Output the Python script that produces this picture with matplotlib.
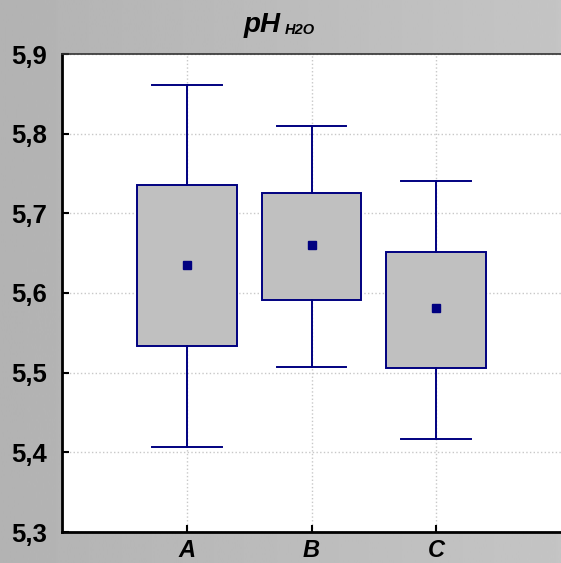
import matplotlib.pyplot as plt
import numpy as np

groups = ["A", "B", "C"]
means = [5.635, 5.660, 5.581]
box_low = [5.533, 5.591, 5.506]
box_high = [5.736, 5.726, 5.651]
whisk_low = [5.407, 5.507, 5.417]
whisk_high = [5.861, 5.810, 5.741]

yticks = [5.3, 5.4, 5.5, 5.6, 5.7, 5.8, 5.9]

navy = "#000080"

fig = plt.figure(figsize=(5.61, 5.63), dpi=100)

# gray gradient background
bg = fig.add_axes([0, 0, 1, 1], zorder=-10)
grad = np.linspace(0.70, 0.77, 256).reshape(1, -1)
bg.imshow(grad, aspect="auto", cmap="gray", vmin=0, vmax=1, extent=[0, 1, 0, 1])
bg.axis("off")

ax = fig.add_axes([62 / 561, 31 / 563, 1 - 62 / 561, 478 / 563])
ax.set_facecolor("white")

stats = []
for i, g in enumerate(groups):
    stats.append({
        "label": g,
        "mean": means[i],
        "med": means[i],
        "q1": box_low[i],
        "q3": box_high[i],
        "whislo": whisk_low[i],
        "whishi": whisk_high[i],
        "fliers": [],
    })

ax.bxp(stats, positions=[1, 2, 3], widths=0.8, patch_artist=True,
       showmeans=True, showfliers=False,
       boxprops=dict(facecolor="#c0c0c0", edgecolor=navy, linewidth=1.4),
       whiskerprops=dict(color=navy, linewidth=1.4),
       capprops=dict(color=navy, linewidth=1.4),
       medianprops=dict(linewidth=0),
       meanprops=dict(marker="s", markerfacecolor=navy, markeredgecolor=navy,
                      markersize=6),
       capwidths=0.56, zorder=3)

ax.set_xlim(0, 4)
ax.set_ylim(5.3, 5.9)
ax.set_xticks([1, 2, 3])
ax.set_xticklabels(groups, fontsize=17, fontweight="bold", fontstyle="italic",
                   family="Liberation Sans")
ax.set_yticks(yticks)
ax.set_yticklabels([f"{v:.1f}".replace(".", ",") for v in yticks],
                   fontsize=18.5, fontweight="bold", family="Liberation Sans")
ax.tick_params(axis="y", direction="in", length=5, width=1.5, pad=11)
ax.tick_params(axis="x", direction="in", length=5, width=1.5, pad=5)
ax.grid(True, color="#c8c8c8", linestyle=":", linewidth=1)
ax.set_axisbelow(True)

ax.spines["left"].set_linewidth(2)
ax.spines["bottom"].set_linewidth(2)
ax.spines["top"].set_linewidth(1.2)
ax.spines["top"].set_color("#333333")
ax.spines["right"].set_visible(False)

fig.text(0.467, 0.955, "pH", fontsize=20, fontweight="bold", fontstyle="italic",
         family="Liberation Sans", ha="center", va="center")
fig.text(0.535, 0.946, "H2O", fontsize=10.5, fontweight="bold", fontstyle="italic",
         family="Liberation Sans", ha="center", va="center")

fig.savefig("out.png", dpi=100)
